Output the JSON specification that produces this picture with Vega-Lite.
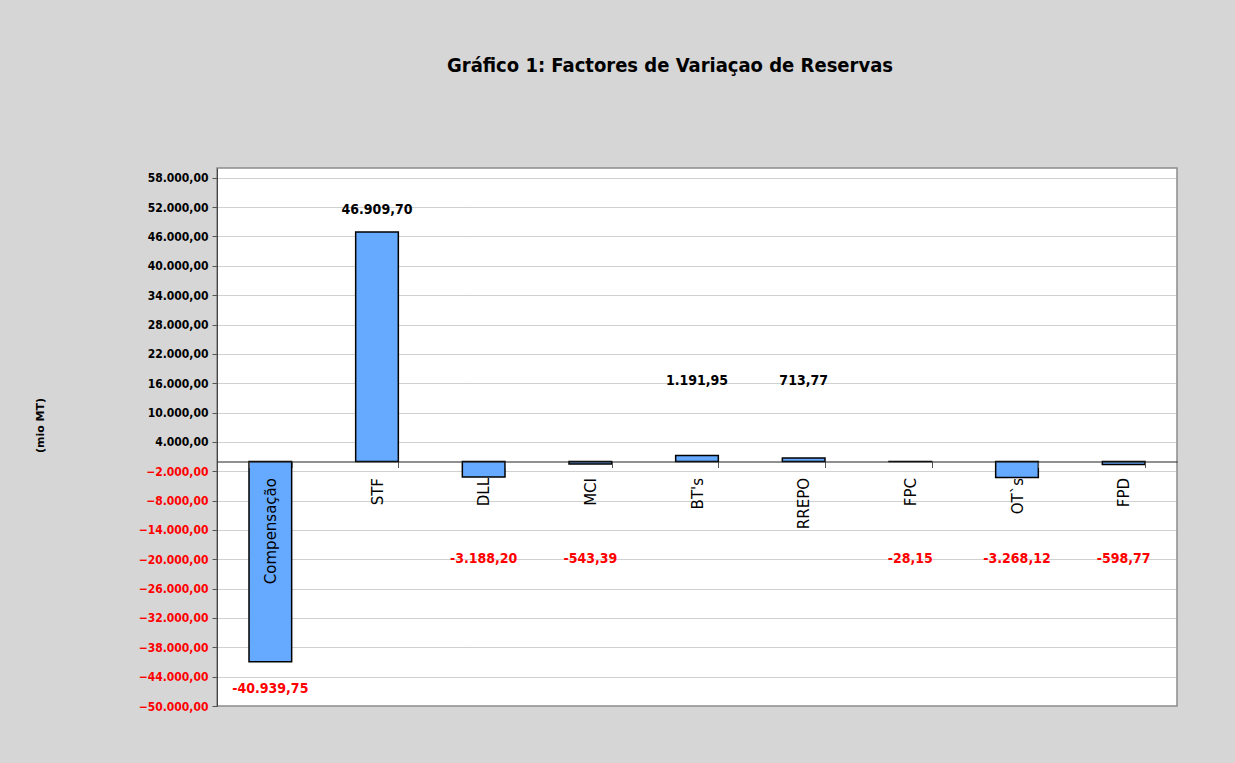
{
  "$schema": "https://vega.github.io/schema/vega-lite/v6.json",
  "autosize": {"type": "none"},
  "width": 960,
  "height": 538,
  "padding": {"left": 217, "top": 168, "right": 58, "bottom": 57},
  "background": "#d6d6d6",
  "config": {
    "locale": {"number": {"decimal": ",", "thousands": ".", "grouping": [3], "currency": ["", ""]}},
    "view": {"fill": "white", "stroke": "#8c8c8c", "strokeWidth": 1.5},
    "axisY": {"labelOverlap": false}
  },
  "title": {
    "text": "Gráfico 1: Factores de Variaçao de Reservas",
    "font": "DejaVu Sans Condensed, Liberation Sans, sans-serif",
    "fontSize": 20,
    "fontWeight": "bold",
    "color": "black",
    "anchor": "middle",
    "dx": -27,
    "offset": 92
  },
  "data": {
    "values": [
      {"factor": "Compensação", "valor": -40939.75, "rotulo": "-40.939,75"},
      {"factor": "STF", "valor": 46909.70, "rotulo": "46.909,70"},
      {"factor": "DLL", "valor": -3188.20, "rotulo": "-3.188,20"},
      {"factor": "MCI", "valor": -543.39, "rotulo": "-543,39"},
      {"factor": "BT's", "valor": 1191.95, "rotulo": "1.191,95"},
      {"factor": "RREPO", "valor": 713.77, "rotulo": "713,77"},
      {"factor": "FPC", "valor": -28.15, "rotulo": "-28,15"},
      {"factor": "OT`s", "valor": -3268.12, "rotulo": "-3.268,12"},
      {"factor": "FPD", "valor": -598.77, "rotulo": "-598,77"}
    ]
  },
  "encoding": {
    "x": {
      "field": "factor",
      "type": "nominal",
      "sort": null,
      "scale": {"paddingInner": 0.6, "paddingOuter": 0.3},
      "axis": {
        "title": null,
        "orient": "bottom",
        "offset": -244.5,
        "zindex": 1,
        "domainColor": "#222222",
        "domainWidth": 1.2,
        "tickBand": "extent",
        "tickSize": 6,
        "tickColor": "#555555",
        "labelAngle": 270,
        "labelAlign": "right",
        "labelBaseline": "middle",
        "labelPadding": 10,
        "labelFont": "DejaVu Sans",
        "labelFontSize": 15,
        "labelColor": "black",
        "labelOverlap": false
      }
    }
  },
  "layer": [
    {
      "mark": {"type": "bar", "fill": "#66aaff", "stroke": "black", "strokeWidth": 1.5},
      "encoding": {
        "y": {
          "field": "valor",
          "type": "quantitative",
          "scale": {"domain": [-50000, 60000], "nice": false, "zero": true},
          "axis": {
            "title": "(mio MT)",
            "titleFont": "DejaVu Sans",
            "titleFontSize": 11,
            "titleFontWeight": "bold",
            "titleColor": "black",
            "titleAngle": 270,
            "titleX": -177,
            "titleY": 257,
            "titleBaseline": "middle",
            "titleAlign": "center",
            "values": [-50000, -44000, -38000, -32000, -26000, -20000, -14000, -8000, -2000, 4000, 10000, 16000, 22000, 28000, 34000, 40000, 46000, 52000, 58000],
            "tickCount": 30,
            "format": ",.2f",
            "labelOverlap": false,
            "labelFlush": false,
            "labelFont": "DejaVu Sans Condensed, Liberation Sans, sans-serif",
            "labelFontSize": 12,
            "labelFontWeight": "bold",
            "labelColor": {"condition": {"test": "datum.value < 0", "value": "#ff0000"}, "value": "black"},
            "labelPadding": 4,
            "tickSize": 5,
            "tickColor": "#555555",
            "domainColor": "#444444",
            "grid": true,
            "gridColor": "#a0a0a0",
            "gridDash": [1, 1],
            "gridWidth": 1
          }
        }
      }
    },
    {
      "transform": [{"filter": "datum.valor > 10000"}],
      "mark": {"type": "text", "font": "DejaVu Sans Condensed, Liberation Sans, sans-serif", "fontSize": 14, "fontWeight": "bold", "color": "black", "baseline": "middle", "dy": -22},
      "encoding": {"y": {"field": "valor", "type": "quantitative"}, "text": {"field": "rotulo"}}
    },
    {
      "transform": [{"filter": "datum.valor < -10000"}],
      "mark": {"type": "text", "font": "DejaVu Sans Condensed, Liberation Sans, sans-serif", "fontSize": 14, "fontWeight": "bold", "color": "#ff0000", "baseline": "middle", "dy": 27},
      "encoding": {"y": {"field": "valor", "type": "quantitative"}, "text": {"field": "rotulo"}}
    },
    {
      "transform": [{"filter": "datum.valor > 0 && datum.valor <= 10000"}],
      "mark": {"type": "text", "font": "DejaVu Sans Condensed, Liberation Sans, sans-serif", "fontSize": 14, "fontWeight": "bold", "color": "black", "baseline": "middle"},
      "encoding": {"y": {"datum": 16500, "type": "quantitative"}, "text": {"field": "rotulo"}}
    },
    {
      "transform": [{"filter": "datum.valor < 0 && datum.valor >= -10000"}],
      "mark": {"type": "text", "font": "DejaVu Sans Condensed, Liberation Sans, sans-serif", "fontSize": 14, "fontWeight": "bold", "color": "#ff0000", "baseline": "middle"},
      "encoding": {"y": {"datum": -20000, "type": "quantitative"}, "text": {"field": "rotulo"}}
    }
  ]
}
